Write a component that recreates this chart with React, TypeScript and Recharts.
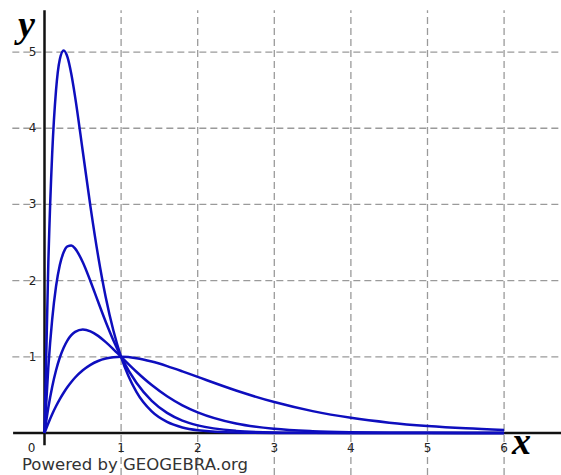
import { LineChart, Line, XAxis, YAxis, ReferenceLine, ReferenceDot } from 'recharts';

// sample x positions
const xs = [0, 0.05, 0.1, 0.15, 0.2, 0.25, 0.3, 0.35, 0.4, 0.5, 0.6, 0.7, 0.8, 0.9, 1.0,
  1.2, 1.4, 1.6, 1.8, 2.0, 2.5, 3.0, 3.5, 4.0, 4.5, 5.0, 5.5, 6.0];

// flat curve, peak 1 at x = 1
const curveA = [0, 0.129, 0.246, 0.351, 0.445, 0.529, 0.604, 0.67, 0.729, 0.824, 0.895, 0.945, 0.977, 0.995, 1,
  0.982, 0.938, 0.878, 0.809, 0.736, 0.558, 0.406, 0.287, 0.199, 0.136, 0.092, 0.061, 0.04];
// peak ~1.36 at x = 0.5
const curveB = [0, 0.334, 0.605, 0.821, 0.991, 1.12, 1.217, 1.284, 1.328, 1.359, 1.335, 1.275, 1.193, 1.099, 1,
  0.804, 0.629, 0.482, 0.363, 0.271, 0.124, 0.055, 0.024, 0.01, 0.004, 0.002, 0.001, 0];
// peak ~2.46 at x = 1/3
const curveC = [0, 0.864, 1.488, 1.921, 2.205, 2.372, 2.45, 2.46, 2.42, 2.241, 1.992, 1.722, 1.458, 1.215, 1,
  0.659, 0.422, 0.264, 0.163, 0.1, 0.028, 0.007, 0.002, 0.001, 0, 0, 0, 0];
// peak ~5 at x = 0.25
const curveD = [0, 2.235, 3.66, 4.494, 4.906, 5.021, 4.933, 4.711, 4.409, 3.695, 2.972, 2.324, 1.78, 1.343, 1,
  0.539, 0.283, 0.145, 0.073, 0.037, 0.006, 0.001, 0, 0, 0, 0, 0, 0];

const xTicks = [1, 2, 3, 4, 5, 6];
const yTicks = [1, 2, 3, 4, 5];

const data = xs.map((x, i) => ({ x, a: curveA[i], b: curveB[i], c: curveC[i], d: curveD[i] }));

const W = 561;
const H = 475;
const X_MIN = -0.581;
const X_MAX = 6.743;
const Y_MIN = -0.551;
const Y_MAX = 5.683;

const gridStroke = '#9a9a9a';
const blue = '#0e0ebe';
const tickFont = { fontFamily: 'DejaVu Sans', fontSize: 12, fill: '#222' };

export default function App() {
  return (
    <div style={{ position: 'absolute', left: 0, top: 0, width: W, height: H, background: '#fff' }}>
      <LineChart width={W} height={H} data={data} margin={{ top: 0, right: 0, bottom: 0, left: 0 }}>
        <XAxis hide type="number" dataKey="x" domain={[X_MIN, X_MAX]} allowDataOverflow />
        <YAxis hide type="number" domain={[Y_MIN, Y_MAX]} allowDataOverflow />

        {xTicks.map((t) => (
          <ReferenceLine
            key={'gx' + t}
            segment={[{ x: t, y: Y_MIN }, { x: t, y: 5.55 }]}
            stroke={gridStroke}
            strokeWidth={1.3}
            strokeDasharray="7 4"
          />
        ))}
        {yTicks.map((t) => (
          <ReferenceLine
            key={'gy' + t}
            segment={[{ x: -0.42, y: t }, { x: X_MAX, y: t }]}
            stroke={gridStroke}
            strokeWidth={1.3}
            strokeDasharray="7 4"
          />
        ))}

        <ReferenceLine segment={[{ x: -0.41, y: 0 }, { x: X_MAX, y: 0 }]} stroke="#111" strokeWidth={2.5} />
        <ReferenceLine segment={[{ x: 0, y: -0.16 }, { x: 0, y: 5.55 }]} stroke="#111" strokeWidth={2.5} />

        {xTicks.map((t) => (
          <ReferenceDot
            key={'lx' + t}
            x={t}
            y={0}
            r={0}
            shape={(p: any) => (
              <text x={p.cx} y={p.cy + 19} textAnchor="middle" {...tickFont}>{t}</text>
            )}
          />
        ))}
        <ReferenceDot
          x={0}
          y={0}
          r={0}
          shape={(p: any) => (
            <text x={p.cx - 13} y={p.cy + 19} textAnchor="middle" {...tickFont}>0</text>
          )}
        />
        {yTicks.map((t) => (
          <ReferenceDot
            key={'ly' + t}
            x={0}
            y={t}
            r={0}
            shape={(p: any) => (
              <text x={p.cx - 12} y={p.cy + 4} textAnchor="middle" {...tickFont}>{t}</text>
            )}
          />
        ))}

        <Line type="monotone" dataKey="a" stroke={blue} strokeWidth={2.5} dot={false} activeDot={false} isAnimationActive={false} />
        <Line type="monotone" dataKey="b" stroke={blue} strokeWidth={2.5} dot={false} activeDot={false} isAnimationActive={false} />
        <Line type="monotone" dataKey="c" stroke={blue} strokeWidth={2.5} dot={false} activeDot={false} isAnimationActive={false} />
        <Line type="monotone" dataKey="d" stroke={blue} strokeWidth={2.5} dot={false} activeDot={false} isAnimationActive={false} />
      </LineChart>

      <svg width={W} height={H} style={{ position: 'absolute', left: 0, top: 0, pointerEvents: 'none' }}>
        <text x={18} y={37} fontFamily="Liberation Serif" fontStyle="italic" fontWeight="bold" fontSize={38} fill="#000">y</text>
        <text x={512} y={454} fontFamily="Liberation Serif" fontStyle="italic" fontWeight="bold" fontSize={38} fill="#000">x</text>
        <text x={22} y={470} fontFamily="DejaVu Sans" fontSize={15} fill="#333" textLength={226} lengthAdjust="spacingAndGlyphs">
          Powered by GEOGEBRA.org
        </text>
      </svg>
    </div>
  );
}
